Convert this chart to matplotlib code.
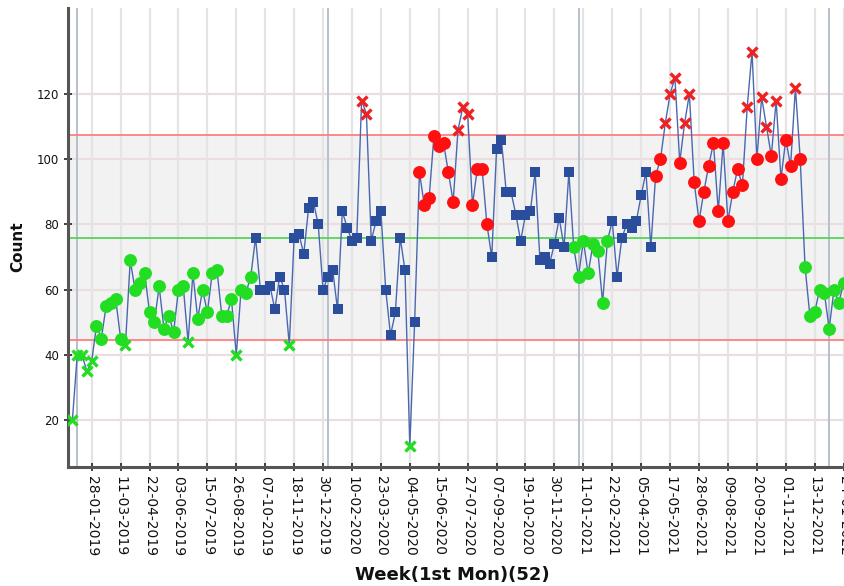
import matplotlib
matplotlib.use('Agg')
import matplotlib.pyplot as plt
import pandas as pd

# ---- data ----
start_date = '2018-12-31'
values = [20, 40, 40, 35, 38, 49, 45, 55, 56, 57,
          45, 43, 69, 60, 62, 65, 53, 50, 61, 48,
          52, 47, 60, 61, 44, 65, 51, 60, 53, 65,
          66, 52, 52, 57, 40, 60, 59, 64, 76, 60,
          60, 61, 54, 64, 60, 43, 76, 77, 71, 85,
          87, 80, 60, 64, 66, 54, 84, 79, 75, 76,
          118, 114, 75, 81, 84, 60, 46, 53, 76, 66,
          12, 50, 96, 86, 88, 107, 104, 105, 96, 87,
          109, 116, 114, 86, 97, 97, 80, 70, 103, 106,
          90, 90, 83, 75, 83, 84, 96, 69, 70, 68,
          74, 82, 73, 96, 73, 64, 75, 65, 74, 72,
          56, 75, 81, 64, 76, 80, 79, 81, 89, 96,
          73, 95, 100, 111, 120, 125, 99, 111, 120, 93,
          81, 90, 98, 105, 84, 105, 81, 90, 97, 92,
          116, 133, 100, 119, 110, 101, 118, 94, 106, 98,
          122, 100, 67, 52, 53, 60, 59, 48, 60, 56,
          62]
# gx: green cross, gc: green circle, bs: blue square, rc: red circle, rx: red cross
codes = (['gx'] * 5 + ['gc'] * 6 + ['gx'] + ['gc'] * 12 + ['gx'] + ['gc'] * 9 +
         ['gx'] + ['gc'] * 3 + ['bs'] * 7 + ['gx'] + ['bs'] * 14 + ['rx'] * 2 +
         ['bs'] * 8 + ['gx'] + ['bs'] + ['rc'] * 8 + ['rx'] * 3 + ['rc'] * 4 +
         ['bs'] * 17 + ['gc'] * 8 + ['bs'] * 9 + ['rc'] * 2 + ['rx'] * 3 + ['rc'] +
         ['rx'] * 2 + ['rc'] * 11 + ['rx'] * 2 + ['rc'] + ['rx'] * 2 + ['rc'] +
         ['rx'] + ['rc'] * 3 + ['rx'] + ['rc'] + ['gc'] * 9)

center_line = 76.0
upper_limit = 107.4
lower_limit = 44.5
y_ticks = [20, 40, 60, 80, 100, 120]
year_starts = ['2019-01-07', '2020-01-06', '2021-01-04', '2022-01-03']
x_label = 'Week(1st Mon)(52)'
y_label = 'Count'

# ---- derived ----
weeks = pd.date_range(start_date, periods=len(values), freq='7D')
tick_dates = weeks[4::6]

styles = {
    'gx': dict(marker='x', color='#22dd22', ms=6.8, mew=2.4),
    'gc': dict(marker='o', color='#22dd22', ms=9.3, mew=0),
    'bs': dict(marker='s', color='#2a4d9c', ms=6.8, mew=0),
    'rc': dict(marker='o', color='#ff1010', ms=9.3, mew=0),
    'rx': dict(marker='x', color='#ee2222', ms=6.8, mew=2.4),
}

fig = plt.figure(figsize=(8.44, 5.86), dpi=100)
ax = fig.add_axes([68.3 / 844, 119.3 / 586, 782.2 / 844, 458.7 / 586])

x_left = weeks[0] - pd.Timedelta(days=5.95)
x_right = weeks[-1] + pd.Timedelta(days=10)
ax.set_xlim(x_left, x_right)
ax.set_ylim(5.7, 146.4)

ax.axhspan(lower_limit, upper_limit, color='#f2f2f2', zorder=0)
for yv in y_ticks:
    ax.axhline(yv, color='#eadede', lw=1.6, zorder=1)
for d in tick_dates:
    ax.axvline(d, color='#e4e4e4', lw=1.6, zorder=1)
for d in year_starts:
    ax.axvline(pd.Timestamp(d), color='#b8bfcc', lw=1.4, zorder=1)

ax.axhline(upper_limit, color='#ff8080', lw=1.3, zorder=2)
ax.axhline(lower_limit, color='#ff8080', lw=1.3, zorder=2)
ax.axhline(center_line, color='#55d655', lw=1.3, zorder=2)

ax.plot(weeks, values, color='#4a68b0', lw=1.0, zorder=3)
for code, st in styles.items():
    xs = [w for w, c in zip(weeks, codes) if c == code]
    ys = [v for v, c in zip(values, codes) if c == code]
    ax.plot(xs, ys, linestyle='none', marker=st['marker'], color=st['color'],
            markersize=st['ms'], markeredgewidth=st['mew'], zorder=4)

ax.set_yticks(y_ticks)
ax.set_xticks(tick_dates)
ax.set_xticklabels([d.strftime('%d-%m-%Y') for d in tick_dates], rotation=270,
                   ha='center', va='top', fontsize=10, color='#111111')
ax.tick_params(axis='y', labelsize=8.5, labelcolor='#111111', direction='inout',
               length=6, width=1.2, color='#222222')
ax.tick_params(axis='x', direction='inout', length=6, width=1.2, color='#222222', pad=4)

for s in ['top', 'right']:
    ax.spines[s].set_visible(False)
for s in ['left', 'bottom']:
    ax.spines[s].set_color('#555555')
    ax.spines[s].set_linewidth(2.2)

fig.text(452 / 844, 1 - 575 / 586, x_label, ha='center', va='center',
         fontsize=13, fontweight='bold', color='#111111')
fig.text(18 / 844, 1 - 247 / 586, y_label, ha='center', va='center', rotation=90,
         fontsize=11, fontweight='bold', color='#111111')

fig.savefig('out.png', dpi=100)
